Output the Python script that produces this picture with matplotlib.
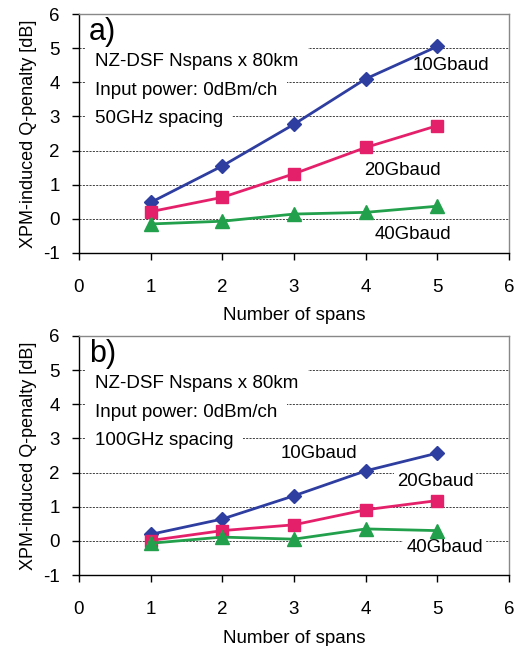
import matplotlib
matplotlib.use("Agg")
import matplotlib.pyplot as plt

plt.rcParams["font.family"] = ["Liberation Sans", "DejaVu Sans"]
plt.rcParams["axes.unicode_minus"] = False

# Data
spans = [1, 2, 3, 4, 5]
a_10g = [0.48, 1.55, 2.77, 4.10, 5.05]
a_20g = [0.21, 0.63, 1.32, 2.09, 2.73]
a_40g = [-0.15, -0.07, 0.14, 0.19, 0.37]
b_10g = [0.19, 0.64, 1.32, 2.05, 2.57]
b_20g = [0.01, 0.30, 0.47, 0.91, 1.18]
b_40g = [-0.07, 0.11, 0.05, 0.35, 0.30]

series_names = ["10Gbaud", "20Gbaud", "40Gbaud"]
panel_letters = ["a)", "b)"]
spacings = ["50GHz spacing", "100GHz spacing"]
# label anchors per panel (x, y) for 10/20/40 Gbaud
label_pos = [
    [(5.19, 4.48), (4.52, 1.43), (4.66, -0.45)],
    [(3.35, 2.57), (4.97, 1.74), (5.10, -0.19)],
]

colors = ["#2E3DA0", "#E5206A", "#22A04B"]
markers = ["D", "s", "^"]
msizes = [7.5, 8, 9.5]

fig = plt.figure(figsize=(5.17, 6.46), dpi=100)
ax_a = fig.add_axes([0.1528, 0.6084, 0.8317, 0.3699])
ax_b = fig.add_axes([0.1528, 0.1099, 0.8317, 0.3700])

white = dict(boxstyle="square,pad=0.5", facecolor="white", edgecolor="none")

for i, (ax, data) in enumerate([(ax_a, [a_10g, a_20g, a_40g]),
                                (ax_b, [b_10g, b_20g, b_40g])]):
    ax.set_xlim(0, 6)
    ax.set_ylim(-1, 6)
    ax.set_xticks(range(0, 7))
    ax.set_yticks(range(-1, 7))
    for g in range(0, 6):
        ax.axhline(g, color="#222222", linestyle=(0, (2.5, 1.5)), linewidth=0.6, zorder=1)
    for ys, c, m, ms in zip(data, colors, markers, msizes):
        ax.plot(spans, ys, color=c, marker=m, markersize=ms, linewidth=2.0, zorder=4)
    for name, (lx, ly) in zip(series_names, label_pos[i]):
        ax.text(lx, ly, name, fontsize=13.4, ha="center", va="center", zorder=3,
                bbox=dict(boxstyle="square,pad=0.15", facecolor="white", edgecolor="none"))
    ax.text(0.14, 5.48, panel_letters[i], fontsize=22, ha="left", va="center", zorder=3)
    lines = ["NZ-DSF Nspans x 80km", "Input power: 0dBm/ch", spacings[i]]
    for line, ly in zip(lines, [4.6, 3.77, 2.94]):
        ax.text(0.22, ly, line, fontsize=13.5, ha="left", va="center", zorder=2, bbox=white)
    ax.tick_params(direction="out", length=5, width=1, labelsize=13.5)
    ax.tick_params(axis="y", pad=9)
    ax.tick_params(axis="x", pad=14)
    for s in ["left", "bottom"]:
        ax.spines[s].set_linewidth(1.0)
    for s in ["top", "right"]:
        ax.spines[s].set_color("#888888")
        ax.spines[s].set_linewidth(1.0)
    ax.set_ylabel("XPM-induced Q-penalty [dB]", fontsize=13, labelpad=4)
    ax.set_xlabel("Number of spans", fontsize=13.5, labelpad=8)

fig.savefig("out.png", dpi=100)
